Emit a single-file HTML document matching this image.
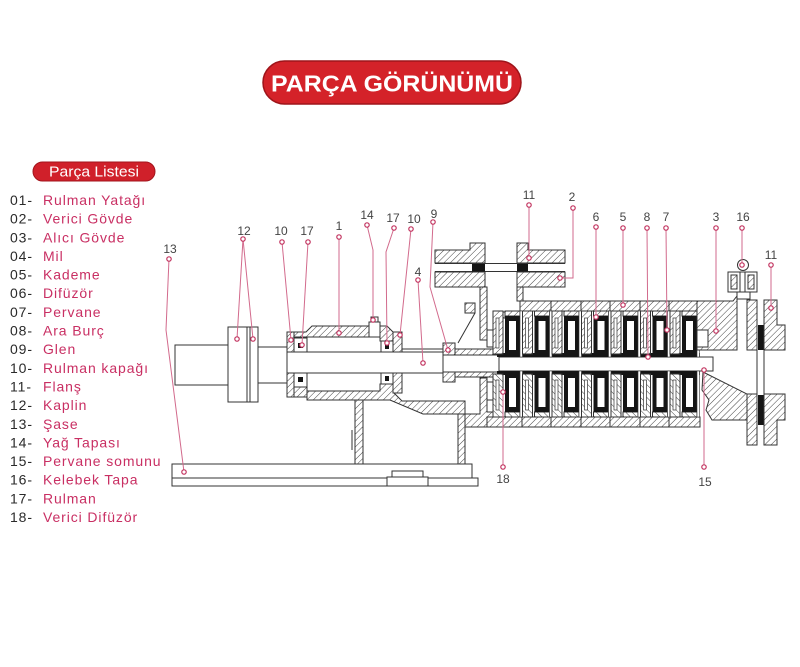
<!DOCTYPE html>
<html><head><meta charset="utf-8"><style>
html,body{margin:0;padding:0;background:#fff;}
svg{display:block}
.hz{fill:url(#h);stroke:#333;stroke-width:1}
.w{fill:#fff;stroke:#333;stroke-width:1}
.k{fill:#151515}
.ln{stroke:#333;stroke-width:1;fill:none}
.ld{fill:none;stroke:#d26a8c;stroke-width:1}
.dt{fill:#fff;stroke:#c2335f;stroke-width:1.2}
.n{font-family:"Liberation Sans",sans-serif;font-size:12px;fill:#444;text-anchor:middle}
.num{font-family:"Liberation Sans",sans-serif;font-size:14px;fill:#2a2a2a;letter-spacing:0.9px}
.nm{font-family:"Liberation Sans",sans-serif;font-size:14px;fill:#c92f63;letter-spacing:0.9px}
</style></head><body>
<svg width="800" height="667" viewBox="0 0 800 667" xmlns="http://www.w3.org/2000/svg">
<defs>
<pattern id="h" width="4.5" height="4.5" patternUnits="userSpaceOnUse" patternTransform="rotate(45)"><rect width="4.5" height="4.5" fill="#fff"/><line x1="0" y1="0" x2="0" y2="4.5" stroke="#444" stroke-width="1"/></pattern>
<g id="st">
  <rect class="hz" x="-12" y="311" width="10" height="43"/>
  <rect x="-9" y="318" width="3" height="30" fill="#fff" stroke="#333" stroke-width=".7"/>
  <rect class="hz" x="0" y="311" width="15" height="5"/>
  <rect class="k" x="0" y="316" width="15" height="41"/>
  <rect x="4" y="321" width="7" height="29" fill="#fff"/>
  <rect x="15" y="311" width="2.5" height="46" fill="#fff" stroke="#333" stroke-width=".6"/>
</g>
</defs>

<!-- Title -->
<rect x="263" y="61" width="258" height="43" rx="21.5" fill="#d42229" stroke="#9e141a" stroke-width="1.5"/>
<text x="392" y="91.5" font-family="Liberation Sans, sans-serif" font-weight="bold" font-size="23" fill="#fff" text-anchor="middle" textLength="242" lengthAdjust="spacingAndGlyphs">PARÇA GÖRÜNÜMÜ</text>

<!-- Parts list -->
<rect x="33" y="162" width="122" height="19" rx="9.5" fill="#d0202a" stroke="#a3151c" stroke-width="1"/>
<text x="94" y="176.5" font-family="Liberation Sans, sans-serif" font-size="15" fill="#fff" text-anchor="middle" textLength="90" lengthAdjust="spacingAndGlyphs">Parça Listesi</text>

<text class="num" x="10" y="205">01-</text><text class="nm" x="43" y="205">Rulman Yatağı</text>
<text class="num" x="10" y="223.6">02-</text><text class="nm" x="43" y="223.6">Verici Gövde</text>
<text class="num" x="10" y="242.3">03-</text><text class="nm" x="43" y="242.3">Alıcı Gövde</text>
<text class="num" x="10" y="261">04-</text><text class="nm" x="43" y="261">Mil</text>
<text class="num" x="10" y="279.6">05-</text><text class="nm" x="43" y="279.6">Kademe</text>
<text class="num" x="10" y="298.2">06-</text><text class="nm" x="43" y="298.2">Difüzör</text>
<text class="num" x="10" y="316.9">07-</text><text class="nm" x="43" y="316.9">Pervane</text>
<text class="num" x="10" y="335.5">08-</text><text class="nm" x="43" y="335.5">Ara Burç</text>
<text class="num" x="10" y="354.2">09-</text><text class="nm" x="43" y="354.2">Glen</text>
<text class="num" x="10" y="372.8">10-</text><text class="nm" x="43" y="372.8">Rulman kapağı</text>
<text class="num" x="10" y="391.5">11-</text><text class="nm" x="43" y="391.5">Flanş</text>
<text class="num" x="10" y="410.1">12-</text><text class="nm" x="43" y="410.1">Kaplin</text>
<text class="num" x="10" y="428.8">13-</text><text class="nm" x="43" y="428.8">Şase</text>
<text class="num" x="10" y="447.4">14-</text><text class="nm" x="43" y="447.4">Yağ Tapası</text>
<text class="num" x="10" y="466.1">15-</text><text class="nm" x="43" y="466.1">Pervane somunu</text>
<text class="num" x="10" y="484.7">16-</text><text class="nm" x="43" y="484.7">Kelebek Tapa</text>
<text class="num" x="10" y="503.4">17-</text><text class="nm" x="43" y="503.4">Rulman</text>
<text class="num" x="10" y="522">18-</text><text class="nm" x="43" y="522">Verici Difüzör</text>

<!-- Base (13) -->
<rect class="w" x="172" y="464" width="300" height="14"/>
<rect class="w" x="172" y="478" width="306" height="8"/>
<rect class="w" x="387" y="477" width="41" height="9"/>
<rect class="w" x="392" y="471" width="31" height="6"/>

<!-- Coupling (12) -->
<rect class="w" x="175" y="345" width="53" height="40"/>
<rect class="w" x="228" y="327" width="30" height="75"/>
<line class="ln" x1="247" y1="327" x2="247" y2="402"/>
<line class="ln" x1="250" y1="327" x2="250" y2="402"/>
<rect class="w" x="258" y="347" width="29" height="36"/>

<!-- Pedestal -->
<rect class="hz" x="355" y="400" width="8" height="64"/>
<rect class="hz" x="458" y="412" width="7" height="52"/>
<line class="ln" x1="352" y1="430" x2="352" y2="450"/>

<!-- Shaft -->
<rect class="w" x="287" y="352" width="158" height="21"/>
<rect class="w" x="443" y="355" width="58" height="17"/>
<line class="ln" x1="402" y1="349" x2="455" y2="349"/>

<!-- Bearing housing (1) upper -->
<rect class="hz" x="287" y="332" width="7" height="20"/>
<polygon class="hz" points="294,332 306,332 312,326 369,326 369,337 294,337"/>
<rect class="w" x="294" y="338" width="13" height="14"/>
<rect class="k" x="298" y="343" width="5" height="5"/>
<polygon class="hz" points="380,326 387,326 393,332 393,341 380,341"/>
<rect class="w" x="369" y="322" width="11" height="15"/>
<rect class="w" x="371" y="317" width="7" height="5"/>
<rect class="w" x="381" y="341" width="12" height="11"/>
<rect class="k" x="385" y="344" width="4" height="5"/>
<rect class="hz" x="393" y="332" width="9" height="20"/>

<!-- Bearing housing lower -->
<rect class="hz" x="287" y="373" width="7" height="24"/>
<rect class="w" x="294" y="373" width="13" height="14"/>
<rect class="k" x="298" y="377" width="5" height="5"/>
<rect class="hz" x="294" y="387" width="13" height="10"/>
<polygon class="hz" points="307,391 380,391 380,384 393,384 393,392 402,401 465,401 465,414 423,414 390,400 307,400"/>
<rect class="w" x="381" y="373" width="12" height="11"/>
<rect class="k" x="385" y="376" width="4" height="5"/>
<rect class="hz" x="393" y="373" width="9" height="20"/>

<!-- Glen (9) and sleeve -->
<rect class="hz" x="443" y="343" width="12" height="12"/>
<rect class="hz" x="443" y="372" width="12" height="10"/>
<rect class="hz" x="455" y="349" width="44" height="6"/>
<rect class="hz" x="455" y="372" width="44" height="5"/>
<line class="ln" x1="458" y1="343" x2="475" y2="313"/>
<rect class="hz" x="465" y="303" width="10" height="10"/>

<!-- Discharge casing (2) -->
<polygon class="hz" points="435,250 470,250 470,243 485,243 485,263 435,263"/>
<polygon class="hz" points="517,243 528,243 528,250 565,250 565,263 517,263"/>
<line class="ln" x1="435" y1="263.5" x2="565" y2="263.5"/>
<line class="ln" x1="435" y1="271.5" x2="565" y2="271.5"/>
<rect class="k" x="472" y="264" width="13" height="8"/>
<rect class="k" x="517" y="264" width="11" height="8"/>
<rect class="hz" x="435" y="272" width="50" height="15"/>
<rect class="hz" x="517" y="272" width="48" height="15"/>
<rect class="hz" x="480" y="287" width="7" height="53"/>
<rect class="hz" x="517" y="287" width="6" height="14"/>
<polygon class="hz" points="465,414 480,414 480,378 487,378 487,412 502,412 502,427 465,427"/>
<rect class="w" x="487" y="330" width="11" height="17"/>
<rect class="w" x="487" y="382" width="11" height="18"/>
<rect class="hz" x="498" y="312" width="22" height="6"/>

<!-- Pump casing strips -->
<rect class="hz" x="520" y="301" width="180" height="10"/>
<rect class="hz" x="487" y="417" width="213" height="10"/>
<g class="ln">
<line x1="551" y1="301" x2="551" y2="311"/><line x1="581" y1="301" x2="581" y2="311"/><line x1="610" y1="301" x2="610" y2="311"/><line x1="640" y1="301" x2="640" y2="311"/><line x1="669" y1="301" x2="669" y2="311"/>
<line x1="522" y1="417" x2="522" y2="427"/><line x1="551" y1="417" x2="551" y2="427"/><line x1="581" y1="417" x2="581" y2="427"/><line x1="610" y1="417" x2="610" y2="427"/><line x1="640" y1="417" x2="640" y2="427"/><line x1="669" y1="417" x2="669" y2="427"/>
</g>

<!-- Pump shaft -->
<rect class="w" x="499" y="357" width="214" height="14"/>
<rect class="k" x="497" y="353" width="203" height="4"/>
<rect class="k" x="497" y="371" width="203" height="4"/>

<!-- Stages upper -->
<use href="#st" x="505"/>
<use href="#st" x="534.5"/>
<use href="#st" x="564"/>
<use href="#st" x="593.5"/>
<use href="#st" x="623"/>
<use href="#st" x="652.5"/>
<use href="#st" x="682"/>
<!-- Stages lower (mirrored) -->
<use href="#st" transform="translate(505,728) scale(1,-1)"/>
<use href="#st" transform="translate(534.5,728) scale(1,-1)"/>
<use href="#st" transform="translate(564,728) scale(1,-1)"/>
<use href="#st" transform="translate(593.5,728) scale(1,-1)"/>
<use href="#st" transform="translate(623,728) scale(1,-1)"/>
<use href="#st" transform="translate(652.5,728) scale(1,-1)"/>
<use href="#st" transform="translate(682,728) scale(1,-1)"/>

<!-- Suction casing (3) -->
<polygon class="hz" points="697,301 733,301 737,296 737,350 697,350"/>
<rect class="w" x="697" y="330" width="11" height="17"/>
<polygon class="hz" points="703,372 747,394 747,420 712,420 706,410 709,400 702,390"/>
<rect class="hz" x="747" y="300" width="10" height="50"/>
<rect class="hz" x="747" y="394" width="10" height="51"/>
<line class="ln" x1="757" y1="350" x2="757" y2="394"/>
<line class="ln" x1="764" y1="350" x2="764" y2="394"/>
<line class="ln" x1="737" y1="296" x2="741" y2="292"/>
<line class="ln" x1="747" y1="300" x2="750" y2="292"/>
<rect class="k" x="758" y="325" width="6" height="25"/>
<rect class="k" x="758" y="395" width="6" height="30"/>
<!-- Flange (11) right -->
<polygon class="hz" points="764,300 777,300 777,325 785,325 785,350 764,350"/>
<polygon class="hz" points="764,394 785,394 785,420 777,420 777,445 764,445"/>

<!-- Kelebek tapa (16) -->
<rect class="w" x="737" y="291" width="13" height="8"/>
<rect class="w" x="728" y="272" width="29" height="20"/>
<rect class="hz" x="731" y="275" width="6" height="14"/>
<rect class="hz" x="748" y="275" width="6" height="14"/>
<line class="ln" x1="740" y1="272" x2="740" y2="292"/>
<line class="ln" x1="745" y1="272" x2="745" y2="292"/>
<circle cx="743" cy="265" r="5.5" fill="#fff" stroke="#333"/>

<!-- Leader lines -->
<g class="ld">
<polyline points="169,259 166,330 184,472"/>
<line x1="243" y1="239" x2="237" y2="339"/>
<line x1="243" y1="239" x2="253" y2="339"/>
<line x1="282" y1="242" x2="291" y2="340"/>
<line x1="308" y1="242" x2="302" y2="345"/>
<line x1="339" y1="237" x2="339" y2="333"/>
<polyline points="367,225 373,250 373,320"/>
<polyline points="394,228 386,252 387,343"/>
<line x1="411" y1="229" x2="400" y2="335"/>
<polyline points="433,222 430,287 448,350"/>
<line x1="418" y1="280" x2="423" y2="363"/>
<line x1="529" y1="205" x2="529" y2="258"/>
<polyline points="573,208 573,278 560,278"/>
<line x1="596" y1="227" x2="596" y2="317"/>
<line x1="623" y1="228" x2="623" y2="305"/>
<line x1="647" y1="228" x2="648" y2="357"/>
<line x1="666" y1="228" x2="667" y2="330"/>
<line x1="716" y1="228" x2="716" y2="331"/>
<line x1="742" y1="228" x2="742" y2="265"/>
<line x1="771" y1="265" x2="771" y2="308"/>
<line x1="503" y1="467" x2="503" y2="392"/>
<line x1="704" y1="467" x2="704" y2="370"/>
</g>
<g class="dt">
<circle cx="169" cy="259" r="2.2"/><circle cx="184" cy="472" r="2.2"/>
<circle cx="243" cy="239" r="2.2"/><circle cx="237" cy="339" r="2.2"/><circle cx="253" cy="339" r="2.2"/>
<circle cx="282" cy="242" r="2.2"/><circle cx="291" cy="340" r="2.2"/>
<circle cx="308" cy="242" r="2.2"/><circle cx="302" cy="345" r="2.2"/>
<circle cx="339" cy="237" r="2.2"/><circle cx="339" cy="333" r="2.2"/>
<circle cx="367" cy="225" r="2.2"/><circle cx="373" cy="320" r="2.2"/>
<circle cx="394" cy="228" r="2.2"/><circle cx="387" cy="343" r="2.2"/>
<circle cx="411" cy="229" r="2.2"/><circle cx="400" cy="335" r="2.2"/>
<circle cx="433" cy="222" r="2.2"/><circle cx="448" cy="350" r="2.2"/>
<circle cx="418" cy="280" r="2.2"/><circle cx="423" cy="363" r="2.2"/>
<circle cx="529" cy="205" r="2.2"/><circle cx="529" cy="258" r="2.2"/>
<circle cx="573" cy="208" r="2.2"/><circle cx="560" cy="278" r="2.2"/>
<circle cx="596" cy="227" r="2.2"/><circle cx="596" cy="317" r="2.2"/>
<circle cx="623" cy="228" r="2.2"/><circle cx="623" cy="305" r="2.2"/>
<circle cx="647" cy="228" r="2.2"/><circle cx="648" cy="357" r="2.2"/>
<circle cx="666" cy="228" r="2.2"/><circle cx="667" cy="330" r="2.2"/>
<circle cx="716" cy="228" r="2.2"/><circle cx="716" cy="331" r="2.2"/>
<circle cx="742" cy="228" r="2.2"/><circle cx="742" cy="265" r="2.2"/>
<circle cx="771" cy="265" r="2.2"/><circle cx="771" cy="308" r="2.2"/>
<circle cx="503" cy="467" r="2.2"/><circle cx="503" cy="392" r="2.2"/>
<circle cx="704" cy="467" r="2.2"/><circle cx="704" cy="370" r="2.2"/>
</g>

<!-- Number labels -->
<text class="n" x="170" y="253">13</text>
<text class="n" x="244" y="235">12</text>
<text class="n" x="281" y="235">10</text>
<text class="n" x="307" y="235">17</text>
<text class="n" x="339" y="230">1</text>
<text class="n" x="367" y="219">14</text>
<text class="n" x="393" y="222">17</text>
<text class="n" x="414" y="223">10</text>
<text class="n" x="434" y="218">9</text>
<text class="n" x="418" y="276">4</text>
<text class="n" x="529" y="199">11</text>
<text class="n" x="572" y="201">2</text>
<text class="n" x="596" y="221">6</text>
<text class="n" x="623" y="221">5</text>
<text class="n" x="647" y="221">8</text>
<text class="n" x="666" y="221">7</text>
<text class="n" x="716" y="221">3</text>
<text class="n" x="743" y="221">16</text>
<text class="n" x="771" y="259">11</text>
<text class="n" x="503" y="483">18</text>
<text class="n" x="705" y="486">15</text>
</svg>
</body></html>
